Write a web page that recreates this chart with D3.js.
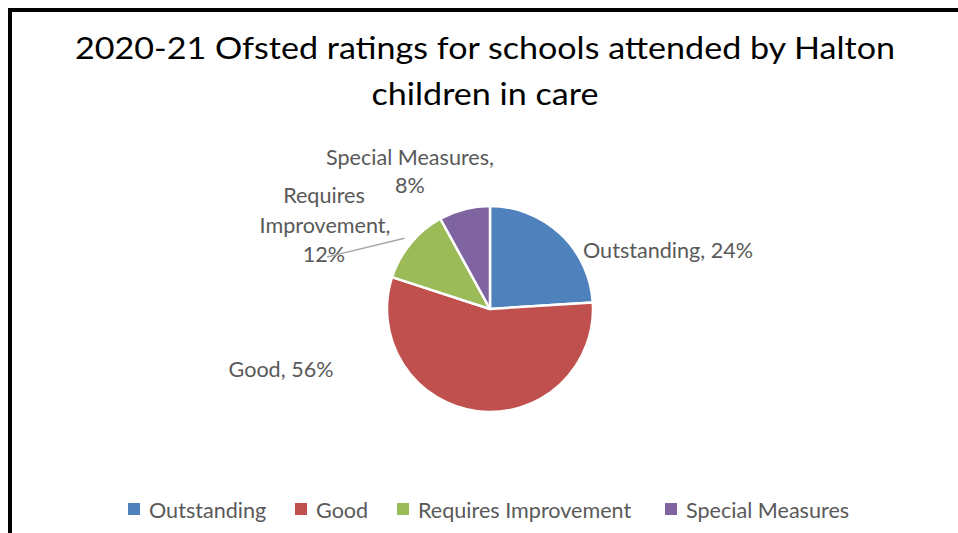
<!DOCTYPE html>
<html><head><meta charset="utf-8">
<script src="https://cdn.jsdelivr.net/npm/d3@7"></script>
<style>body{margin:0;background:#fff}svg{display:block}</style>
</head><body>
<svg id="c" width="958" height="533"></svg>
<script>
const categories = ["Outstanding", "Good", "Requires Improvement", "Special Measures"];
const values = [24, 56, 12, 8];
const colors = ["#4F81BD", "#C0504D", "#9BBB59", "#8064A2"];
const titleLines = ["2020-21 Ofsted ratings for schools attended by Halton", "children in care"];

const svg = d3.select("#c");
const FONT = "Lato, 'Open Sans', sans-serif";
const grey = "#595959";

// horizontally compress text to mimic a narrow font
function squeeze(sel, k) {
  const w = sel.node().getComputedTextLength();
  sel.attr("textLength", w * k).attr("lengthAdjust", "spacingAndGlyphs");
  return sel;
}
function ratio(sel, target) { return target / sel.node().getComputedTextLength(); }

// border
svg.append("rect").attr("x", 10).attr("y", 10).attr("width", 1200).attr("height", 800)
  .attr("fill", "none").attr("stroke", "#000").attr("stroke-width", 4);

// title
const TFS = 31;
const t1 = svg.append("text").attr("x", 485).attr("y", 59).attr("text-anchor", "middle")
  .attr("font-family", FONT).attr("font-size", TFS).attr("fill", "#000").text(titleLines[0]);
const tk = ratio(t1, 820);
squeeze(t1, tk);
squeeze(svg.append("text").attr("x", 485).attr("y", 105).attr("text-anchor", "middle")
  .attr("font-family", FONT).attr("font-size", TFS).attr("fill", "#000").text(titleLines[1]), tk);

// pie
const cx = 490, cy = 309, r = 103;
const pie = d3.pie().sort(null).value(d => d)(values);
const arc = d3.arc().innerRadius(0).outerRadius(r);
const g = svg.append("g").attr("transform", `translate(${cx},${cy})`);
g.selectAll("path").data(pie).join("path")
  .attr("d", arc).attr("fill", (d, i) => colors[i])
  .attr("stroke", "#fff").attr("stroke-width", 2.5).attr("stroke-linejoin", "round");

// data labels
const LFS = 21;
const lbl = (x, y, txt, anchor) => svg.append("text").attr("x", x).attr("y", y)
  .attr("text-anchor", anchor).attr("font-family", FONT).attr("font-size", LFS)
  .attr("fill", grey).text(txt);

const o = lbl(cx + 93, cy - 51, `${categories[0]}, ${values[0]}%`, "start");
const lk = ratio(o, 170);
squeeze(o, lk);
const L = (x, y, txt, a) => squeeze(lbl(x, y, txt, a), lk);
L(cx - 209, cy + 68, `${categories[1]}, ${values[1]}%`, "middle");
L(cx - 80, cy - 144, "Special Measures,", "middle");
L(cx - 80, cy - 116, `${values[3]}%`, "middle");
L(cx - 166, cy - 106, "Requires", "middle");
L(cx - 165, cy - 76, "Improvement,", "middle");
L(cx - 166, cy - 47, `${values[2]}%`, "middle");

// leader line for Requires Improvement
const riMid = (pie[2].startAngle + pie[2].endAngle) / 2;
const ex = Math.sin(riMid) * (r + 8), ey = -Math.cos(riMid) * (r + 8);
svg.append("line").attr("x1", cx - 163).attr("y1", cy - 52)
  .attr("x2", cx + ex).attr("y2", cy + ey)
  .attr("stroke", "#A6A6A6").attr("stroke-width", 1.3);

// legend
const legX = [128, 295, 397, 665];
const leg = svg.append("g");
categories.forEach((c, i) => {
  leg.append("rect").attr("x", legX[i]).attr("y", 503).attr("width", 12).attr("height", 12).attr("fill", colors[i]);
  squeeze(leg.append("text").attr("x", legX[i] + 21).attr("y", 518).attr("font-family", FONT)
    .attr("font-size", LFS).attr("fill", grey).text(c), lk);
});
</script>
</body></html>
